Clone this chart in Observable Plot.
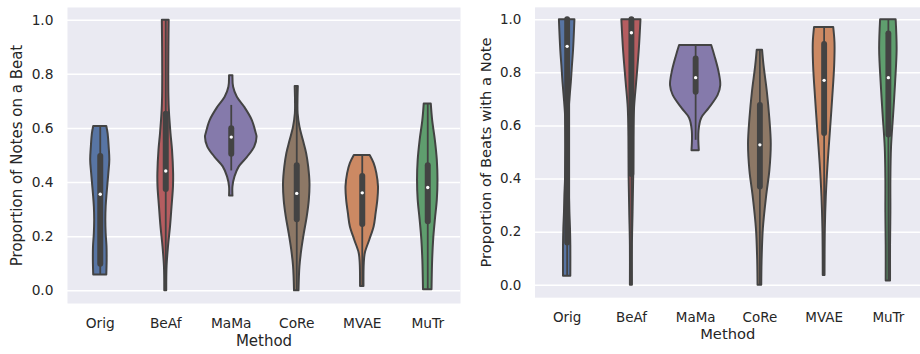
<!DOCTYPE html>
<html><head><meta charset="utf-8">
<script src="https://cdn.jsdelivr.net/npm/d3@7"></script>
<script src="https://cdn.jsdelivr.net/npm/@observablehq/plot@0.6"></script>
<style>
html,body{margin:0;padding:0;background:#fff;overflow:hidden;}
#wrap{position:relative;width:920px;height:354px;overflow:hidden;}
#left{position:absolute;left:0;top:0;}
#right{position:absolute;left:460px;top:0;}
</style></head><body>
<div id="wrap"><div id="left"></div><div id="right"></div></div>
<script>
const methods = ["Orig", "BeAf", "MaMa", "CoRe", "MVAE", "MuTr"];
const colors = ["#5875A4", "#B55D60", "#857AAB", "#8D7866", "#CC8963", "#5F9E6E"];
const yTicks = [0, 0.2, 0.4, 0.6, 0.8, 1.0];
const xLabel = "Method";
const leftLabel = "Proportion of Notes on a Beat";
const rightLabel = "Proportion of Beats with a Note";

// Violin profiles [value, half-width as fraction of category step]
const notesOrig = [[0.607,0.10],[0.58,0.12],[0.531,0.136],[0.482,0.146],[0.433,0.131],[0.36,0.105],[0.31,0.09],[0.261,0.085],[0.212,0.09],[0.163,0.103],[0.114,0.105],[0.059,0.10]];
const notesBeAf = [[1.0,0.052],[0.9,0.048],[0.8,0.046],[0.72,0.048],[0.666,0.055],[0.58,0.08],[0.52,0.103],[0.433,0.12],[0.384,0.118],[0.31,0.096],[0.237,0.073],[0.163,0.042],[0.09,0.02],[0.0,0.015]];
const notesMaMa = [[0.795,0.026],[0.752,0.036],[0.715,0.093],[0.678,0.205],[0.629,0.322],[0.58,0.383],[0.568,0.394],[0.531,0.358],[0.494,0.251],[0.458,0.123],[0.421,0.057],[0.384,0.026],[0.35,0.026]];
const notesCoRe = [[0.755,0.024],[0.703,0.019],[0.654,0.021],[0.605,0.049],[0.556,0.10],[0.507,0.151],[0.458,0.182],[0.396,0.202],[0.335,0.192],[0.274,0.161],[0.212,0.116],[0.151,0.077],[0.09,0.049],[0.0,0.034]];
const notesMVAE = [[0.5,0.121],[0.47,0.182],[0.433,0.223],[0.384,0.248],[0.335,0.238],[0.286,0.212],[0.237,0.182],[0.188,0.116],[0.139,0.047],[0.102,0.031],[0.016,0.026]];
const notesMuTr = [[0.69,0.054],[0.629,0.075],[0.556,0.116],[0.482,0.146],[0.409,0.156],[0.335,0.146],[0.261,0.116],[0.188,0.09],[0.114,0.075],[0.004,0.065]];

const beatsOrig = [[1.0,0.121],[0.887,0.10],[0.826,0.082],[0.764,0.065],[0.703,0.044],[0.642,0.026],[0.58,0.019],[0.519,0.016],[0.458,0.021],[0.396,0.026],[0.335,0.036],[0.274,0.042],[0.212,0.052],[0.151,0.057],[0.034,0.057]];
const beatsBeAf = [[1.0,0.149],[0.887,0.123],[0.764,0.082],[0.666,0.049],[0.556,0.039],[0.409,0.036],[0.274,0.026],[0.151,0.016],[0.0,0.016]];
const beatsMaMa = [[0.903,0.25],[0.863,0.30],[0.801,0.366],[0.752,0.391],[0.715,0.35],[0.666,0.212],[0.629,0.095],[0.58,0.052],[0.507,0.057]];
const beatsCoRe = [[0.885,0.042],[0.826,0.065],[0.728,0.116],[0.63,0.154],[0.531,0.177],[0.433,0.156],[0.335,0.105],[0.212,0.054],[0.09,0.034],[0.0,0.029]];
const beatsMVAE = [[0.971,0.149],[0.912,0.169],[0.826,0.164],[0.703,0.133],[0.58,0.098],[0.458,0.062],[0.335,0.034],[0.212,0.019],[0.037,0.014]];
const beatsMuTr = [[1.0,0.121],[0.887,0.136],[0.764,0.113],[0.642,0.082],[0.519,0.049],[0.396,0.039],[0.274,0.039],[0.151,0.034],[0.016,0.034]];

// Box statistics per method (order as methods)
const notesLow    = [0.059, 0.0,   0.443, 0.0,   0.016, 0.004];
const notesQ1     = [0.098, 0.374, 0.505, 0.263, 0.245, 0.255];
const notesMedian = [0.357, 0.443, 0.568, 0.36,  0.362, 0.382];
const notesQ3     = [0.496, 0.652, 0.599, 0.462, 0.422, 0.462];
const notesHigh   = [0.607, 1.0,   0.685, 0.755, 0.5,   0.69];

const beatsLow    = [0.034, 0.0,   0.546, 0.0,   0.037, 0.016];
const beatsQ1     = [0.159, 0.417, 0.727, 0.37,  0.572, 0.566];
const beatsMedian = [0.90,  0.951, 0.782, 0.529, 0.772, 0.782];
const beatsQ3     = [1.0,   1.0,   0.852, 0.677, 0.907, 0.947];
const beatsHigh   = [1.0,   1.0,   0.903, 0.885, 0.971, 1.0];

const gray = "#434343";

function violinChart({profiles, low, q1, med, q3, high, label, width, marginLeft}) {
  const rows = [];
  profiles.forEach((p, i) => p.forEach(([y, hw]) => rows.push({m: methods[i], i, y, x1: i - hw, x2: i + hw})));
  const stats = methods.map((m, i) => ({m, i, low: low[i], q1: q1[i], med: med[i], q3: q3[i], high: high[i]}));
  return Plot.plot({
    width, height: 354,
    marginLeft, marginRight: 0, marginTop: 7, marginBottom: 51,
    style: {fontFamily: "DejaVu Sans", fontSize: "13.75px", color: "#262626", background: "transparent", overflow: "visible"},
    x: {domain: [-0.5, 5.5], axis: null},
    y: {domain: [-0.0467, 1.0467], axis: null},
    color: {domain: methods, range: colors},
    marks: [
      Plot.frame({fill: "#EAEAF2", stroke: null}),
      Plot.ruleY(yTicks, {stroke: "white", strokeWidth: 1.5}),
      Plot.areaX(rows, {y: "y", x1: "x1", x2: "x2", z: "m", fill: "m", stroke: gray, strokeWidth: 2, strokeLinejoin: "round", curve: "catmull-rom"}),
      Plot.ruleX(stats, {x: "i", y1: "low", y2: "high", stroke: gray, strokeWidth: 1.8}),
      Plot.ruleX(stats, {x: "i", y1: "q1", y2: "q3", stroke: gray, strokeWidth: 6, strokeLinecap: "round"}),
      Plot.dot(stats, {x: "i", y: "med", r: 1.7, fill: "white", stroke: null}),
      Plot.axisY({ticks: yTicks, tickFormat: d3.format(".1f"), tickSize: 0, tickPadding: 14, fontSize: "13.75px", label: null}),
      Plot.axisX({ticks: d3.range(methods.length), tickFormat: i => methods[i], tickSize: 0, tickPadding: 15, fontSize: "13.75px", label: null}),
      Plot.text([label], {text: d => d, frameAnchor: "left", textAnchor: "middle", dx: -50, rotate: -90, fontSize: "15px", fill: "#262626"}),
      Plot.text([xLabel], {text: d => d, frameAnchor: "bottom", textAnchor: "middle", dy: 42, fontSize: "15px", fill: "#262626"})
    ]
  });
}

document.getElementById("left").appendChild(violinChart({
  profiles: [notesOrig, notesBeAf, notesMaMa, notesCoRe, notesMVAE, notesMuTr],
  low: notesLow, q1: notesQ1, med: notesMedian, q3: notesQ3, high: notesHigh,
  label: leftLabel, width: 460, marginLeft: 67
}));
document.getElementById("right").appendChild(violinChart({
  profiles: [beatsOrig, beatsBeAf, beatsMaMa, beatsCoRe, beatsMVAE, beatsMuTr],
  low: beatsLow, q1: beatsQ1, med: beatsMedian, q3: beatsQ3, high: beatsHigh,
  label: rightLabel, width: 469, marginLeft: 76
}));
</script>
</body></html>
